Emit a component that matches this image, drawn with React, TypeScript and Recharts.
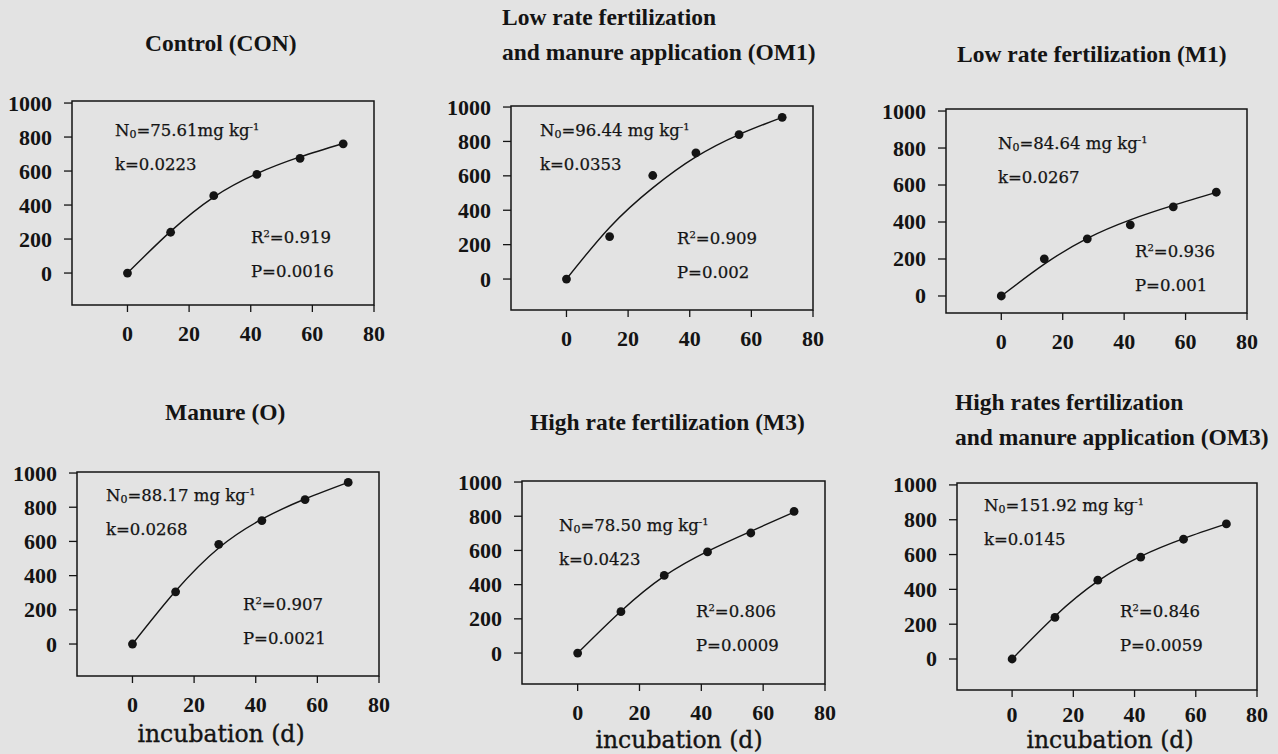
import React from "react";
import {
  ComposedChart,
  Line,
  Scatter,
  XAxis,
  YAxis,
  ReferenceArea
} from "recharts";

// sampling days of the incubation
const days = [0, 14, 28, 42, 56, 70];
const xTicks = [0, 20, 40, 60, 80];
const yTicks = [0, 200, 400, 600, 800, 1000];

// observed cumulative N mineralized (mg kg-1)
const conObs = [0, 240, 455, 580, 675, 760];
const om1Obs = [0, 247, 602, 734, 840, 940];
const m1Obs = [0, 201, 309, 385, 482, 561];
const oObs = [0, 305, 583, 722, 845, 945];
const m3Obs = [0, 242, 454, 591, 702, 828];
const om3Obs = [0, 239, 453, 585, 688, 776];

// fitted curve at the same days
const conFit = [0, 245, 447, 585, 683, 762];
const om1Fit = [0, 300, 530, 710, 840, 940];
const m1Fit = [0, 172, 312, 412, 490, 560];
const oFit = [0, 310, 562, 730, 848, 945];
const m3Fit = [0, 245, 450, 595, 712, 824];
const om3Fit = [0, 246, 447, 590, 692, 776];

const titles = [
  ["Control (CON)"],
  ["Low rate fertilization", "and manure application (OM1)"],
  ["Low rate fertilization (M1)"],
  ["Manure (O)"],
  ["High rate fertilization (M3)"],
  ["High rates fertilization", "and manure application (OM3)"]
];

const n0Labels = ["75.61mg", "96.44 mg", "84.64 mg", "88.17 mg", "78.50 mg", "151.92 mg"];
const kLabels = ["0.0223", "0.0353", "0.0267", "0.0268", "0.0423", "0.0145"];
const r2Labels = ["0.919", "0.909", "0.936", "0.907", "0.806", "0.846"];
const pLabels = ["0.0016", "0.002", "0.001", "0.0021", "0.0009", "0.0059"];

const INK = "#141414";
const SERIF = "'DejaVu Serif', serif";
const TIMES = "'Liberation Serif', serif";

type Box = { left: number; top: number; right: number; bottom: number };

type Panel = {
  obs: number[];
  fit: number[];
  box: Box;
  yMin: number;
  yMax: number;
  titleX: number;
  titleY: number;
  n0: [number, number];
  stats: [number, number];
  xGap: number;
  xLabel?: [number, number];
};

const panels: Panel[] = [
  { obs: conObs, fit: conFit, box: { left: 72, top: 101, right: 374, bottom: 305 }, yMin: -188, yMax: 1012, titleX: 145, titleY: 52, n0: [115, 127], stats: [251, 234], xGap: 14 },
  { obs: om1Obs, fit: om1Fit, box: { left: 511, top: 106, right: 813, bottom: 310 }, yMin: -180, yMax: 1006, titleX: 502, titleY: 26, n0: [540, 127], stats: [677, 235], xGap: 14 },
  { obs: m1Obs, fit: m1Fit, box: { left: 946, top: 109, right: 1247, bottom: 313 }, yMin: -92, yMax: 1011, titleX: 957, titleY: 63, n0: [998, 140], stats: [1135, 248], xGap: 14 },
  { obs: oObs, fit: oFit, box: { left: 77, top: 472, right: 379, bottom: 676 }, yMin: -187, yMax: 1006, titleX: 165, titleY: 421, n0: [106, 492], stats: [243, 601], xGap: 14, xLabel: [221, 734] },
  { obs: m3Obs, fit: m3Fit, box: { left: 522, top: 481, right: 825, bottom: 684 }, yMin: -181, yMax: 1006, titleX: 530, titleY: 431, n0: [559, 522], stats: [696, 608], xGap: 14, xLabel: [679, 740] },
  { obs: om3Obs, fit: om3Fit, box: { left: 957, top: 483, right: 1257, bottom: 690 }, yMin: -178, yMax: 1011, titleX: 955, titleY: 411, n0: [984, 502], stats: [1120, 608], xGap: 10, xLabel: [1110, 740] }
];

const Y_W = 70;
const X_H = 60;
const M_TOP = 10;
const M_RIGHT = 25;

const tickStyle: React.CSSProperties = {
  fontFamily: TIMES,
  fontWeight: 700,
  fontSize: 22
};

function Dot(props: any) {
  const { cx, cy } = props;
  if (cx == null || cy == null) return null;
  return <circle cx={cx} cy={cy} r={4.4} fill={INK} />;
}

function XTick({ x, y, payload }: any) {
  return (
    <text x={x} y={y} dy="0.68em" textAnchor="middle" fill={INK} style={tickStyle}>
      {payload.value}
    </text>
  );
}

function YTick({ x, y, payload }: any) {
  return (
    <text x={x} y={y} dy="0.34em" textAnchor="end" fill={INK} style={tickStyle}>
      {payload.value}
    </text>
  );
}

function Note({ x, y, children }: { x: number; y: number; children: React.ReactNode }) {
  return (
    <div
      style={{
        position: "absolute",
        left: x,
        top: y - 11,
        fontFamily: SERIF,
        fontSize: 16.5,
        lineHeight: "22px",
        color: INK,
        WebkitTextStroke: "0.25px #141414",
        whiteSpace: "nowrap"
      }}
    >
      {children}
    </div>
  );
}

function PanelChart({ p, i }: { p: Panel; i: number }) {
  const { box } = p;
  const w = box.right - box.left + Y_W + M_RIGHT;
  const h = box.bottom - box.top + M_TOP + X_H;
  const obsPts = days.map((d, j) => ({ x: d, y: p.obs[j] }));
  const fitPts = days.map((d, j) => ({ x: d, y: p.fit[j] }));
  const lines = titles[i];

  return (
    <>
      {lines.map((t, j) => (
        <div
          key={t}
          style={{
            position: "absolute",
            left: p.titleX,
            top: p.titleY + j * 35 - 21,
            fontFamily: TIMES,
            fontWeight: 700,
            fontSize: 23.5,
            lineHeight: "24px",
            color: INK,
            whiteSpace: "nowrap"
          }}
        >
          {t}
        </div>
      ))}
      <div style={{ position: "absolute", left: box.left - Y_W, top: box.top - M_TOP }}>
        <ComposedChart width={w} height={h} margin={{ top: M_TOP, right: M_RIGHT, left: 0, bottom: 0 }}>
          <XAxis
            type="number"
            dataKey="x"
            domain={[-18, 80]}
            ticks={xTicks}
            allowDataOverflow
            height={X_H}
            axisLine={false}
            tickLine={{ stroke: INK, strokeWidth: 1.3 }}
            tickSize={7}
            tickMargin={p.xGap}
            tick={<XTick />}
          />
          <YAxis
            type="number"
            dataKey="y"
            domain={[p.yMin, p.yMax]}
            ticks={yTicks}
            allowDataOverflow
            width={Y_W}
            axisLine={false}
            tickLine={{ stroke: INK, strokeWidth: 1.3 }}
            tickSize={8}
            tickMargin={12}
            tick={<YTick />}
          />
          <ReferenceArea
            x1={-18}
            x2={80}
            y1={p.yMin}
            y2={p.yMax}
            fill="none"
            fillOpacity={0}
            stroke={INK}
            strokeWidth={1.5}
            ifOverflow="visible"
          />
          <Line
            data={fitPts}
            dataKey="y"
            type="natural"
            stroke={INK}
            strokeWidth={1.4}
            dot={false}
            activeDot={false}
            isAnimationActive={false}
          />
          <Scatter data={obsPts} dataKey="y" shape={<Dot />} isAnimationActive={false} />
        </ComposedChart>
      </div>
      <Note x={p.n0[0]} y={p.n0[1]}>
        N<span style={{ fontSize: 11, verticalAlign: "-2px" }}>0</span>={n0Labels[i]} kg
        <span style={{ fontSize: 10, verticalAlign: "6px" }}>-1</span>
      </Note>
      <Note x={p.n0[0]} y={p.n0[1] + 38}>k={kLabels[i]}</Note>
      <Note x={p.stats[0]} y={p.stats[1]}>
        R<span style={{ fontSize: 10, verticalAlign: "6px" }}>2</span>={r2Labels[i]}
      </Note>
      <Note x={p.stats[0]} y={p.stats[1] + 38}>P={pLabels[i]}</Note>
      {p.xLabel != null && (
        <div
          style={{
            position: "absolute",
            left: p.xLabel[0] - 100,
            width: 200,
            top: p.xLabel[1] - 9,
            textAlign: "center",
            fontFamily: SERIF,
            fontSize: 23.5,
            lineHeight: "18px",
            color: INK,
            WebkitTextStroke: "0.35px #141414"
          }}
        >
          incubation (d)
        </div>
      )}
    </>
  );
}

export default function App() {
  return (
    <div
      style={{
        position: "absolute",
        left: 0,
        top: 0,
        width: 1278,
        height: 754,
        background: "#e3e3e3",
        overflow: "hidden"
      }}
    >
      {panels.map((p, i) => (
        <PanelChart key={i} p={p} i={i} />
      ))}
    </div>
  );
}
